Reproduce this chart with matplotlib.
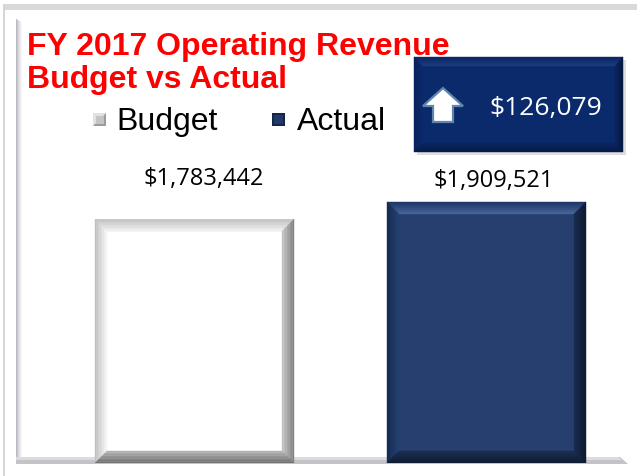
import numpy as np
import matplotlib
matplotlib.use('Agg')
import matplotlib.pyplot as plt
from matplotlib.patches import Polygon, Rectangle

# data
categories = ["Budget", "Actual"]
values = [1783442, 1909521]
value_labels = ["$1,783,442", "$1,909,521"]
difference_label = "$126,079"
title_lines = ["FY 2017 Operating Revenue", "Budget vs Actual"]

W, H = 637, 477
fig = plt.figure(figsize=(W / 100, H / 100), dpi=100)
fig.patch.set_facecolor("white")

# background axes in pixel coords (y down)
bg = fig.add_axes([0, 0, 1, 1], zorder=0)
bg.set_xlim(0, W)
bg.set_ylim(H, 0)
bg.axis("off")


def mix(c1, c2, t):
    c1 = np.array(matplotlib.colors.to_rgb(c1))
    c2 = np.array(matplotlib.colors.to_rgb(c2))
    return tuple(c1 + (c2 - c1) * t)


def bevel(ax, x0, y0, w, h, bx, by, face, sides, n=8, z=2):
    # sides: dict of side -> (outer colour, inner colour)
    x1, y1 = x0 + w, y0 + h
    ax.add_patch(Rectangle((x0, y0), w, h, facecolor=face, edgecolor="none", zorder=z))
    for k in range(n):
        a, b = k / n, (k + 1) / n
        c = (a + b) / 2
        quads = {
            "left": [(x0 + a * bx, y0 + a * by), (x0 + b * bx, y0 + b * by),
                     (x0 + b * bx, y1 - b * by), (x0 + a * bx, y1 - a * by)],
            "right": [(x1 - a * bx, y0 + a * by), (x1 - b * bx, y0 + b * by),
                      (x1 - b * bx, y1 - b * by), (x1 - a * bx, y1 - a * by)],
            "bottom": [(x0 + a * bx, y0 + a * by), (x0 + b * bx, y0 + b * by),
                       (x1 - b * bx, y0 + b * by), (x1 - a * bx, y0 + a * by)],
            "top": [(x0 + a * bx, y1 - a * by), (x0 + b * bx, y1 - b * by),
                    (x1 - b * bx, y1 - b * by), (x1 - a * bx, y1 - a * by)],
        }
        for side, (outer, inner) in sides.items():
            col = mix(outer, inner, c)
            ax.add_patch(Polygon(quads[side], closed=True, facecolor=col,
                                 edgecolor=col, linewidth=0.3, zorder=z + 1))


# outer frame
bg.add_patch(Rectangle((3, 5), W - 3, 6, facecolor="#d9d9d9", edgecolor="none"))
bg.add_patch(Rectangle((3, 5), 2, H - 5, facecolor="#d6d6d6", edgecolor="none"))
# inner panel left edge
for i, col in enumerate(["#b9b9c2", "#c9c9d0", "#d8d8de", "#e4e4e8", "#eeeef1", "#f6f6f8"]):
    bg.add_patch(Rectangle((16 + i, 20 + i * 0.6), 1, 445 - i * 0.6, facecolor=col, edgecolor="none"))
# floor
bg.add_patch(Polygon([(16, 458), (620, 458), (628, 465), (16, 465)], closed=True,
                     facecolor="#c4c4c8", edgecolor="none"))
bg.add_patch(Polygon([(16, 458), (618, 458), (622, 461), (16, 461)], closed=True,
                     facecolor="#dcdce0", edgecolor="none"))

# title
bg.text(27, 55, title_lines[0], color="#ff0000", fontsize=23, fontweight="bold",
        family="Liberation Sans", va="baseline", ha="left")
bg.text(27, 88, title_lines[1], color="#ff0000", fontsize=23, fontweight="bold",
        family="Liberation Sans", va="baseline", ha="left")

# legend
bg.add_patch(Polygon([(93, 114), (106, 114), (93, 127)], closed=True, facecolor="#e2e2e2", edgecolor="none"))
bg.add_patch(Polygon([(106, 114), (106, 127), (93, 127)], closed=True, facecolor="#9c9c9c", edgecolor="none"))
bg.add_patch(Rectangle((95.5, 116.5), 8, 8, facecolor="#c4c4c4", edgecolor="none"))
bg.text(116, 130, categories[0], fontsize=23, family="Liberation Sans", va="baseline", color="black")
bg.add_patch(Rectangle((272, 114), 13, 13, facecolor="#14264a", edgecolor="none"))
bg.add_patch(Rectangle((274, 116), 9, 9, facecolor="#22396a", edgecolor="none"))
bg.text(297, 130, categories[1], fontsize=23, family="Liberation Sans", va="baseline", color="black")

# difference box
bg.add_patch(Rectangle((417, 61), 209, 95, facecolor="#c8c8cc", edgecolor="none", alpha=0.6))
box_face = "#0a2a6c"
bx0, by0, bw, bh = 414, 58, 209, 95
bevel(bg, bx0, by0 + bh, bw, -bh, 8, -9, box_face,
      {"top": ("#0c2660", "#1d3d80"), "bottom": ("#061a45", "#0a2560"),
       "left": ("#09215a", "#0b2968"), "right": ("#051740", "#0a2560")}, z=3)
arrow = [(443, 89), (463, 107), (453, 107), (453, 123), (433, 123), (433, 107), (423, 107)]
bg.add_patch(Polygon(arrow, closed=True, facecolor="white", edgecolor="#5f85b0",
                     linewidth=1.6, zorder=6))
bg.text(546, 108, difference_label, color="white", fontsize=19, family="Open Sans",
        ha="center", va="center", zorder=6)

# bar axes: floor at y=464px, left 16px, right 628px, top 20px
ax = fig.add_axes([16 / W, (H - 464) / H, 612 / W, 444 / H], zorder=1)
ax.patch.set_alpha(0)
ax.axis("off")
px_per_val = 261 / values[1]
ymax = 444 / px_per_val
x_left = -178.5 / 292
x_right = x_left + 612 / 292
ax.set_xlim(x_left, x_right)
ax.set_ylim(0, ymax)

xs = np.arange(len(categories))
width = 199 / 292
bars = ax.bar(xs, values, width=width, color="none", edgecolor="none")

dx = (x_right - x_left) / 612
dy = ymax / 444
styles = [
    ("#ffffff", {"top": ("#bdbdbd", "#f2f2f2"), "left": ("#bcbcbc", "#f8f8f8"),
                 "right": ("#7e7e7e", "#c8c8c8"), "bottom": ("#6e6e6e", "#b5b5b5")}),
    ("#273f6f", {"top": ("#1a3362", "#48679d"), "left": ("#152a52", "#26406f"),
                 "right": ("#0c182e", "#1a2c4e"), "bottom": ("#0e1a30", "#1c2e50")}),
]
for rect, (face, sides) in zip(bars, styles):
    bevel(ax, rect.get_x(), 0, rect.get_width(), rect.get_height(), 12 * dx, 12 * dy, face, sides)

# value labels (placed as in the original, not directly on the bars)
label_offsets = [(9, 41), (7, 22)]
for x, v, lab, (ox, oy) in zip(xs, values, value_labels, label_offsets):
    ax.annotate(lab, xy=(x, v), xytext=(ox * 0.72, oy * 0.72), textcoords="offset points",
                ha="center", va="center", fontsize=17, family="Open Sans", color="black")

fig.savefig("out.png", dpi=100, facecolor="white")
